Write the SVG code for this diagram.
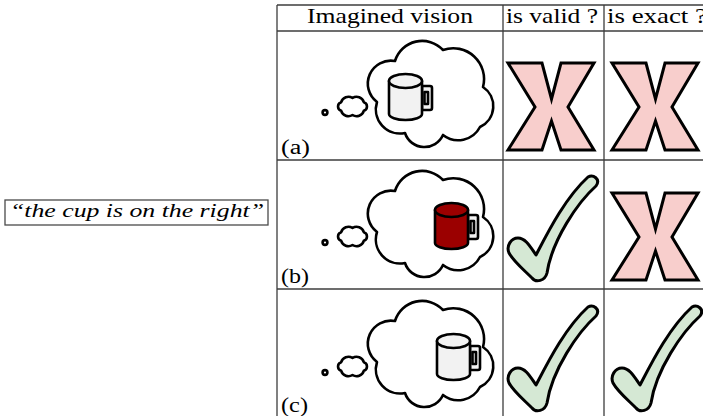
<svg xmlns="http://www.w3.org/2000/svg" xmlns:xlink="http://www.w3.org/1999/xlink" width="703" height="416" viewBox="0 0 703 416">
<style>
.grid{stroke:#3c3c3c;stroke-width:1.3;fill:none}
text{font-family:'Liberation Serif','DejaVu Serif',serif;fill:#000}
.hdr{font-size:22px}
.lbl{font-size:20px}
.quote{font-size:18px;font-style:italic}
.ink{stroke:#000;stroke-width:2.6;stroke-linejoin:round;stroke-linecap:round}
.cloud{fill:#fff}
.handle{fill:#f2f2f2}
.xmark{fill:#f8cecc;stroke:#000;stroke-width:3;stroke-linejoin:miter}
.vmark{fill:#d5e8d4;stroke:#000;stroke-width:3;stroke-linejoin:round}
</style>
<defs>
<g id="thought">
<circle class="ink cloud" cx="325" cy="112.5" r="2.4" stroke-width="2.8"/>
<path class="ink cloud" d="M363.8,110.8 A7.5,7.5 0 0 1 352.5,115 A7.5,7.5 0 0 1 341.2,110.8 A4.5,4.5 0 0 1 341.2,102.2 A7.5,7.5 0 0 1 352.5,98 A7.5,7.5 0 0 1 363.8,102.2 A4.5,4.5 0 0 1 363.8,110.8 Z"/>
<path class="ink cloud" d="M395,61 A28.4,28.4 0 0 1 443,50 A30.8,30.8 0 0 1 483,87 A23,23 0 0 1 480,127 A24.6,24.6 0 0 1 443,135 A20.4,20.4 0 0 1 405,133 A24.2,24.2 0 0 1 377,102 A23,23 0 0 1 395,61 Z"/>
</g>
<g id="cup">
<path class="ink handle" d="M33,5 H41 Q43,5 43,7 V27 Q43,29 41,29 H33 Z"/>
<rect class="ink handle" x="35.5" y="11" width="3.5" height="12" stroke-width="2"/>
<path class="ink" d="M0,0 V33 A16.5,6 0 0 0 33,33 V0"/>
<ellipse class="ink" cx="16.5" cy="0" rx="16.5" ry="7"/>
</g>
<path id="xshape" class="xmark" d="M0,0 H34 L43.5,36 L53,0 H86 L60,44 L86,87 H53 L43.5,58 L34,87 H0 L27,44 Z"/>
<path id="vshape" class="vmark" d="M88,17 C93,14 101,19 96,26 C78,42 52,80 47,113 C45,121 36,123 32,118 C24,110 14,102 9,93 C6,86 11,78 18,78 C26,78 31,88 36,95 C48,72 65,38 88,17 Z"/>
</defs>

<g id="table">
<line class="grid" x1="277" y1="5" x2="703" y2="5"/>
<line class="grid" x1="277" y1="31" x2="703" y2="31"/>
<line class="grid" x1="277" y1="160" x2="703" y2="160"/>
<line class="grid" x1="277" y1="289" x2="703" y2="289"/>
<line class="grid" x1="277" y1="5" x2="277" y2="416"/>
<line class="grid" x1="503" y1="5" x2="503" y2="416"/>
<line class="grid" x1="604" y1="5" x2="604" y2="416"/>
<text class="hdr" font-family="Liberation Serif, serif" x="307" y="23" textLength="166" lengthAdjust="spacingAndGlyphs">Imagined vision</text>
<text class="hdr" font-family="Liberation Serif, serif" x="506" y="23" textLength="92" lengthAdjust="spacingAndGlyphs">is valid ?</text>
<text class="hdr" font-family="Liberation Serif, serif" x="607" y="23" textLength="100" lengthAdjust="spacingAndGlyphs">is exact ?</text>
</g>

<g id="prompt">
<rect x="5" y="200" width="263" height="25" fill="none" stroke="#4a4a4a" stroke-width="1.3"/>
<text class="quote" font-family="Liberation Serif, serif" x="10" y="216.5" textLength="254" lengthAdjust="spacingAndGlyphs">“the cup is on the right”</text>
</g>

<g id="row-a">
<use xlink:href="#thought" href="#thought"/>
<use xlink:href="#cup" href="#cup" transform="translate(389,81)" fill="#f2f2f2"/>
<text class="lbl" font-family="Liberation Serif, serif" x="281" y="154" textLength="29" lengthAdjust="spacingAndGlyphs">(a)</text>
<use xlink:href="#xshape" href="#xshape" transform="translate(508,63)"/>
<use xlink:href="#xshape" href="#xshape" transform="translate(612,63)"/>
</g>

<g id="row-b">
<use xlink:href="#thought" href="#thought" transform="translate(0,130)"/>
<use xlink:href="#cup" href="#cup" transform="translate(435,210)" fill="#9b0000"/>
<text class="lbl" font-family="Liberation Serif, serif" x="281" y="283" textLength="28" lengthAdjust="spacingAndGlyphs">(b)</text>
<use xlink:href="#vshape" href="#vshape" transform="translate(500,160)"/>
<use xlink:href="#xshape" href="#xshape" transform="translate(612,193)"/>
</g>

<g id="row-c">
<use xlink:href="#thought" href="#thought" transform="translate(0,260)"/>
<use xlink:href="#cup" href="#cup" transform="translate(437,341)" fill="#f2f2f2"/>
<text class="lbl" font-family="Liberation Serif, serif" x="281" y="412" textLength="27" lengthAdjust="spacingAndGlyphs">(c)</text>
<use xlink:href="#vshape" href="#vshape" transform="translate(500,290)"/>
<use xlink:href="#vshape" href="#vshape" transform="translate(604,290)"/>
</g>
</svg>
